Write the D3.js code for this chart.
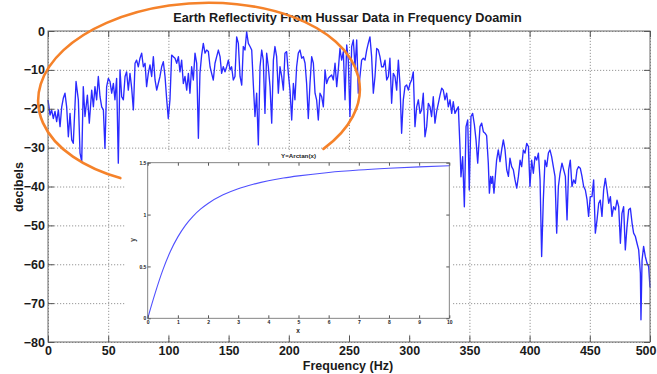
<!DOCTYPE html>
<html><head><meta charset="utf-8">
<script src="https://cdn.jsdelivr.net/npm/d3@7"></script>
<style>body{margin:0;background:#fff}svg{display:block}</style>
</head><body>
<svg id="c" width="657" height="374"></svg>
<script>
// ---- data: [frequency (Hz), reflectivity (dB)] ----
const spectrum = [
[0,-17.7],[1.7,-21.6],[3.0,-20.3],[4.4,-22.5],[5.8,-20.7],[7.2,-23.3],[8.6,-20.3],[10.0,-24.6],[11.4,-19.5],[12.7,-17.3],
[14.1,-16.0],[15.5,-19.5],[16.9,-27.2],[18.3,-21.2],[19.7,-28.0],[21.0,-28.9],[23.3,-13.0],[25.2,-17.7],[26.6,-31.4],[28.0,-33.6],
[29.3,-14.3],[30.7,-22.0],[32.7,-16.5],[34.3,-23.7],[36.3,-15.2],[37.7,-19.5],[39.0,-14.3],[40.4,-17.7],[41.8,-11.7],[43.2,-16.9],
[44.6,-19.5],[46.0,-20.3],[47.3,-30.2],[48.7,-14.3],[50.1,-12.2],[51.5,-13.0],[52.9,-16.0],[54.3,-13.5],[55.6,-17.7],[57.0,-12.2],
[58.4,-34.0],[59.8,-10.0],[61.2,-16.9],[62.6,-17.7],[64.0,-11.7],[65.3,-10.5],[66.7,-15.2],[68.1,-10.9],[69.5,-14.7],[70.9,-20.3],
[72.3,-8.3],[73.6,-7.5],[75.0,-9.2],[76.4,-7.0],[77.8,-5.7],[79.2,-9.2],[80.6,-8.3],[81.9,-14.3],[83.3,-10.9],[84.7,-8.7],
[86.1,-11.7],[87.5,-6.6],[88.9,-12.6],[90.3,-15.2],[91.6,-13.5],[93.0,-11.7],[94.4,-9.2],[95.8,-7.9],[97.2,-11.7],[98.6,-17.7],
[99.9,-22.5],[101.3,-17.7],[102.7,-6.2],[104.1,-6.6],[105.5,-7.0],[106.9,-8.3],[108.3,-6.6],[109.6,-10.5],[111.0,-7.5],[112.4,-13.5],
[113.8,-11.7],[115.2,-15.2],[116.6,-10.9],[117.9,-16.0],[119.3,-9.2],[120.7,-12.6],[122.1,-5.7],[123.5,-8.3],[124.9,-27.6],[126.2,-10.9],
[127.6,-6.2],[129.0,-3.2],[130.4,-5.7],[131.8,-4.9],[133.2,-5.3],[134.6,-9.2],[135.9,-10.9],[137.3,-12.6],[138.7,-8.3],[140.1,-6.6],
[141.5,-4.9],[142.9,-6.6],[144.2,-10.9],[145.6,-9.2],[147.0,-10.5],[148.4,-9.2],[149.8,-7.5],[151.2,-10.0],[152.5,-9.2],[153.9,-12.6],
[155.3,-11.7],[156.7,-1.5],[158.1,-3.2],[159.5,-11.7],[160.9,-13.9],[162.2,-4.0],[163.6,-4.9],[165.0,-0.2],[166.4,-3.2],[167.8,-4.0],
[169.2,-4.9],[170.5,-13.5],[171.9,-22.0],[173.3,-16.0],[174.7,-29.3],[176.1,-9.2],[177.5,-4.9],[178.8,-7.5],[180.2,-21.2],[181.6,-5.7],
[183.0,-9.2],[184.4,-14.3],[185.8,-23.7],[187.2,-7.5],[188.5,-4.0],[189.9,-6.6],[191.3,-16.0],[192.7,-9.2],[194.1,-11.7],[195.5,-15.2],
[196.8,-5.7],[198.2,-5.3],[199.6,-10.9],[201.0,-15.2],[202.4,-22.9],[203.8,-13.5],[205.1,-17.7],[206.5,-9.2],[207.9,-5.7],[209.3,-4.9],
[210.7,-7.0],[212.1,-6.6],[213.5,-8.3],[214.8,-13.5],[216.2,-22.5],[217.6,-13.5],[219.0,-6.6],[220.4,-8.3],[221.8,-16.0],[223.1,-17.7],
[224.5,-22.9],[225.9,-16.0],[227.3,-16.9],[228.7,-19.5],[230.1,-10.0],[231.4,-13.5],[232.8,-12.2],[234.2,-11.7],
[235.6,-11.3],[237.0,-12.6],[238.4,-8.3],[239.8,-14.3],[241.1,-10.0],[242.5,-4.5],[243.9,-7.5],[245.3,-5.3],[246.7,-17.7],[248.1,-3.6],
[249.4,-7.5],[250.8,-22.0],[252.2,-4.0],[253.6,-2.3],[255.0,-9.2],[256.4,-2.3],[257.7,-16.0],[259.1,-11.7],[260.5,-7.5],[261.9,-7.0],
[263.3,-7.5],[264.7,-4.9],[266.0,-3.2],[267.4,-1.5],[268.8,-6.6],[270.2,-16.0],[271.6,-11.7],[273.0,-4.5],[274.4,-4.9],[275.7,-6.6],
[277.1,-9.2],[278.5,-9.2],[279.9,-7.5],[281.3,-12.6],[282.7,-11.7],[284.0,-7.0],[285.4,-18.6],[286.8,-10.9],[288.2,-11.7],[289.6,-15.2],
[291.0,-7.5],[292.3,-13.5],[293.7,-26.3],[295.1,-17.7],[296.5,-14.3],[297.9,-13.9],[299.3,-15.2],[300.7,-13.5],[302.0,-12.6],[303.4,-10.5],
[304.8,-24.6],[306.2,-19.5],[307.6,-17.7],[309.0,-21.2],[310.3,-20.3],[311.7,-16.0],[313.1,-27.2],[314.5,-24.6],[315.9,-18.6],[317.3,-19.5],
[318.6,-22.0],[320.0,-16.9],[321.4,-23.7],[322.8,-20.7],[324.2,-18.6],[325.6,-16.5],[327.0,-14.7],[328.3,-15.2],[329.7,-17.7],[331.1,-16.0],
[332.5,-19.5],[333.9,-17.7],[335.3,-21.2],[336.6,-18.2],[338.0,-21.2],[339.4,-20.3],[340.8,-19.5],[342.2,-30.0],[343.0,-37.5],[344.4,-32.3],
[345.8,-45.2],[347.2,-24.6],[348.6,-22.9],[349.9,-40.9],[351.3,-22.0],[352.7,-21.2],[354.1,-24.0],[355.5,-28.0],[356.9,-34.0],
[358.8,-24.6],[360.2,-23.7],[361.6,-25.9],[363.0,-26.3],[364.3,-26.9],[365.7,-34.0],[366.6,-41.7],[367.7,-37.4],[368.5,-39.2],[369.3,-37.4],
[370.4,-41.7],[371.3,-38.3],[372.6,-33.2],[374.0,-30.6],[375.4,-33.6],[376.8,-30.6],[378.2,-28.0],[379.6,-30.6],[381.0,-35.7],[382.4,-37.4],
[383.7,-32.7],[385.1,-34.9],[386.5,-35.7],[387.9,-38.3],[389.3,-40.4],[390.7,-37.4],[392.1,-33.2],[393.4,-34.9],[394.8,-30.6],[396.2,-31.4],
[397.6,-28.9],[399.0,-29.7],[400.3,-40.0],[401.7,-33.2],[403.1,-36.6],[404.5,-32.3],[405.9,-33.2],[407.3,-31.4],[408.7,-38.3],[410.0,-58.0],
[411.4,-43.4],[412.8,-33.2],[414.2,-34.9],[415.6,-31.4],[416.9,-30.6],[418.3,-32.3],[419.7,-34.9],[421.1,-37.4],[422.5,-52.0],[423.9,-40.0],
[425.3,-36.6],[426.9,-34.0],[428.3,-35.7],[429.7,-37.4],[431.1,-48.6],[432.4,-35.7],[433.8,-33.2],[435.2,-40.0],[436.6,-38.3],[438.0,-39.2],
[439.4,-35.7],[440.7,-34.9],[442.1,-35.3],[443.5,-37.4],[444.9,-40.0],[446.3,-40.9],[447.7,-43.4],[449.0,-47.7],[450.4,-42.6],[451.8,-42.6],
[453.2,-38.3],[454.6,-52.0],[456.0,-48.6],[457.4,-44.3],[458.7,-43.5],[460.1,-47.7],[461.5,-40.9],[462.9,-37.9],[464.3,-40.9],[465.7,-44.3],
[467.1,-42.6],[468.4,-47.7],[469.8,-45.2],[471.2,-46.0],[472.6,-43.5],[474.0,-45.2],[475.4,-54.6],[476.7,-46.9],[478.1,-45.2],[479.5,-56.3],
[480.9,-50.3],[482.3,-46.0],[483.7,-45.6],[485.1,-49.4],[486.4,-52.0],[487.8,-52.8],[489.2,-54.6],[490.6,-56.3],[492.0,-62.3],[492.5,-74.3],
[493.4,-58.9],[494.7,-55.4],[496.1,-58.0],[497.5,-59.7],[498.9,-60.6],[500.0,-66.0]
];
const xTicks = [0,50,100,150,200,250,300,350,400,450,500];
const yTicks = [0,-10,-20,-30,-40,-50,-60,-70,-80];

// inset: y = arctan(x)
const insetX = [0,0.25,0.5,0.75,1,1.25,1.5,1.75,2,2.5,3,3.5,4,4.5,5,6,7,8,9,10];
const insetY = [0,0.245,0.464,0.644,0.785,0.896,0.983,1.052,1.107,1.190,1.249,1.292,1.326,1.352,1.373,1.406,1.429,1.446,1.460,1.471];
const insetXTicks = [0,1,2,3,4,5,6,7,8,9,10];
const insetYTicks = [0,0.5,1,1.5];

const titleText = "Earth Reflectivity From Hussar Data in Frequency Doamin";
const xLabel = "Frequency (Hz)";
const yLabel = "decibels";
const insetTitle = "Y=Arctan(x)";

// ---- drawing ----
const FONT = "'Liberation Sans', Arial, Helvetica, sans-serif";
const svg = d3.select("#c");
const L = 48, R = 650, T = 31, B = 342;
const x = d3.scaleLinear().domain([0, 500]).range([L, R]);
const y = d3.scaleLinear().domain([-80, 0]).range([B, T]);

function styleText(sel, size, weight, fill) {
  sel.attr("font-family", FONT).attr("font-size", size).attr("font-weight", weight).attr("fill", fill);
}

// grid
const gx = svg.append("g").attr("transform", `translate(0,${B})`)
  .call(d3.axisBottom(x).tickValues(xTicks).tickSize(-(B - T)).tickFormat(""));
gx.select(".domain").remove();
gx.selectAll("line").attr("stroke", "#8c8c8c").attr("stroke-width", 0.9).attr("stroke-dasharray", "1.2,1.8");
const gy = svg.append("g").attr("transform", `translate(${L},0)`)
  .call(d3.axisLeft(y).tickValues(yTicks).tickSize(-(R - L)).tickFormat(""));
gy.select(".domain").remove();
gy.selectAll("line").attr("stroke", "#8c8c8c").attr("stroke-width", 0.9).attr("stroke-dasharray", "1.2,1.8");

// data line
svg.append("path").datum(spectrum)
  .attr("d", d3.line().x(d => x(d[0])).y(d => y(d[1])))
  .attr("fill", "none").attr("stroke", "#2a2aff").attr("stroke-width", 1.35)
  .attr("stroke-linejoin", "round");

// frame
svg.append("rect").attr("x", L).attr("y", T).attr("width", R - L).attr("height", B - T)
  .attr("fill", "none").attr("stroke", "#6a6a6a").attr("stroke-width", 1);

// ticks and labels
const axB = svg.append("g").attr("transform", `translate(0,${B})`)
  .call(d3.axisBottom(x).tickValues(xTicks).tickSizeInner(-6).tickSizeOuter(0).tickPadding(4.5));
axB.select(".domain").remove();
axB.selectAll("line").attr("stroke", "#555");
styleText(axB.selectAll("text"), 12.5, "bold", "#1a1a1a");
// keep the last label inside the picture
axB.selectAll("text").filter(d => d === 500).attr("text-anchor", "end").attr("x", 656 - R);
const axT = svg.append("g").attr("transform", `translate(0,${T})`)
  .call(d3.axisTop(x).tickValues(xTicks).tickSizeInner(-6).tickSizeOuter(0).tickFormat(""));
axT.select(".domain").remove(); axT.selectAll("line").attr("stroke", "#555");
const axL = svg.append("g").attr("transform", `translate(${L},0)`)
  .call(d3.axisLeft(y).tickValues(yTicks).tickSizeInner(-6).tickSizeOuter(0).tickPadding(3));
axL.select(".domain").remove();
axL.selectAll("line").attr("stroke", "#555");
styleText(axL.selectAll("text"), 12.5, "bold", "#1a1a1a");
const axR = svg.append("g").attr("transform", `translate(${R},0)`)
  .call(d3.axisRight(y).tickValues(yTicks).tickSizeInner(-6).tickSizeOuter(0).tickFormat(""));
axR.select(".domain").remove(); axR.selectAll("line").attr("stroke", "#555");

// title
const tt = svg.append("text").attr("x", 347.5).attr("y", 21.5).attr("text-anchor", "middle").text(titleText);
styleText(tt, 13, "bold", "#1a1a1a");
const tw = tt.node().getComputedTextLength();
tt.attr("font-size", 13 * 349 / tw);

// axis labels
const xl = svg.append("text").attr("x", 348).attr("y", 369.5).attr("text-anchor", "middle").text(xLabel);
styleText(xl, 12.5, "bold", "#1a1a1a");
const yl = svg.append("text").attr("transform", "translate(22.5,187) rotate(-90)").attr("text-anchor", "middle").text(yLabel);
styleText(yl, 12.5, "bold", "#1a1a1a");

// ---- inset ----
const IL = 147.7, IR = 449.3, IT = 162.7, IB = 318.3;
const ix = d3.scaleLinear().domain([0, 10]).range([IL, IR]);
const iy = d3.scaleLinear().domain([0, 1.5]).range([IB, IT]);
svg.append("rect").attr("x", 125).attr("y", 152).attr("width", 327).attr("height", 182).attr("fill", "#fff");
svg.append("path").datum(insetX.map((v, i) => [v, insetY[i]]))
  .attr("d", d3.line().x(d => ix(d[0])).y(d => iy(d[1])).curve(d3.curveMonotoneX))
  .attr("fill", "none").attr("stroke", "#5050ff").attr("stroke-width", 1.1);
svg.append("rect").attr("x", IL).attr("y", IT).attr("width", IR - IL).attr("height", IB - IT)
  .attr("fill", "none").attr("stroke", "#777").attr("stroke-width", 0.9);
const iaB = svg.append("g").attr("transform", `translate(0,${IB})`)
  .call(d3.axisBottom(ix).tickValues(insetXTicks).tickSizeInner(-3).tickSizeOuter(0).tickPadding(2.4));
iaB.select(".domain").remove(); iaB.selectAll("line").attr("stroke", "#555");
styleText(iaB.selectAll("text"), 5, "bold", "#222");
const iaT = svg.append("g").attr("transform", `translate(0,${IT})`)
  .call(d3.axisTop(ix).tickValues(insetXTicks).tickSizeInner(-3).tickSizeOuter(0).tickFormat(""));
iaT.select(".domain").remove(); iaT.selectAll("line").attr("stroke", "#555");
const iaL = svg.append("g").attr("transform", `translate(${IL},0)`)
  .call(d3.axisLeft(iy).tickValues(insetYTicks).tickSizeInner(-3).tickSizeOuter(0).tickPadding(1.3).tickFormat(d3.format("")));
iaL.select(".domain").remove(); iaL.selectAll("line").attr("stroke", "#555");
styleText(iaL.selectAll("text"), 5, "bold", "#222");
const iaR = svg.append("g").attr("transform", `translate(${IR},0)`)
  .call(d3.axisRight(iy).tickValues(insetYTicks).tickSizeInner(-3).tickSizeOuter(0).tickFormat(""));
iaR.select(".domain").remove(); iaR.selectAll("line").attr("stroke", "#555");
const it = svg.append("text").attr("x", 298.5).attr("y", 158).attr("text-anchor", "middle").text(insetTitle);
styleText(it, 6.2, "bold", "#222");
const ixl = svg.append("text").attr("x", 298).attr("y", 332.6).attr("text-anchor", "middle").text("x");
styleText(ixl, 6.5, "bold", "#222");
const iyl = svg.append("text").attr("transform", "translate(134.5,240) rotate(-90)").attr("text-anchor", "middle").text("y");
styleText(iyl, 6.5, "bold", "#222");

// ---- orange annotation ellipse (open arc) ----
const ec = {cx: 199, cy: 95, rx: 161, ry: 92, rot: -3};
const a1 = 121 * Math.PI / 180, a2 = 41 * Math.PI / 180;
const p1 = [ec.rx * Math.cos(a1), ec.ry * Math.sin(a1)];
const p2 = [ec.rx * Math.cos(a2), ec.ry * Math.sin(a2)];
svg.append("path")
  .attr("transform", `translate(${ec.cx},${ec.cy}) rotate(${ec.rot})`)
  .attr("d", `M${p1[0]},${p1[1]} A${ec.rx},${ec.ry} 0 1 1 ${p2[0]},${p2[1]}`)
  .attr("fill", "none").attr("stroke", "#f5822a").attr("stroke-width", 2.6).attr("stroke-linecap", "round");
</script>
</body></html>
